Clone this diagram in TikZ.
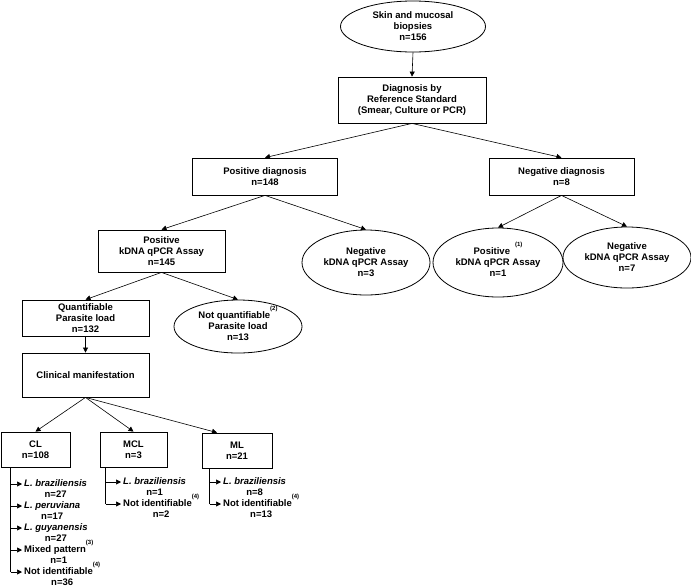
\documentclass[tikz,border=0pt]{standalone}
\usepackage{fontspec}
\setmainfont{Liberation Sans}
\usepackage{tikz}
\usetikzlibrary{arrows.meta,positioning,shapes.geometric,calc}
\newcommand{\supnote}[1]{\smash{\raisebox{8.5pt}{\fontsize{6}{7}\selectfont(#1)}}}
\tikzset{
  stage/.style={draw,line width=.8pt,fill=white,inner sep=0pt,align=center,
                font=\bfseries\fontsize{9.5}{11}\selectfont},
  oval/.style={stage,ellipse},
  flow/.style={-{Triangle[length=5pt,width=5pt]},line width=.6pt},
  spine/.style={line width=.6pt},
  taxon/.style={inner sep=0pt,anchor=west,text height=7pt,text depth=2pt,
                font=\bfseries\fontsize{9.5}{11}\selectfont},
  count/.style={inner sep=0pt,text height=7pt,text depth=2pt,
                font=\bfseries\fontsize{9.5}{11}\selectfont},
}

\begin{document}
\begin{tikzpicture}[x=1pt,y=-1pt]
  \useasboundingbox (0,0) rectangle (691,587);
  % tree
  \node[oval,minimum width=145pt,minimum height=51pt] (biopsy) at (413,26.5)
    {Skin and mucosal\\biopsies\\n=156};
  \node[stage,minimum width=148pt,minimum height=46pt] (refstd) at (412,100)
    {Diagnosis by\\Reference Standard\\(Smear, Culture or PCR)};
  \node[stage,minimum width=145pt,minimum height=37pt] (posdx) at (265,176.5)
    {Positive diagnosis\\n=148};
  \node[stage,minimum width=145pt,minimum height=37pt] (negdx) at (561.5,176.5)
    {Negative diagnosis\\n=8};
  \node[stage,minimum width=127pt,minimum height=42pt] (poskdna) at (161.5,251)
    {Positive\\kDNA qPCR Assay\\n=145};
  \node[oval,minimum width=128pt,minimum height=65pt] (negkdna) at (366,262.5)
    {Negative\\kDNA qPCR Assay\\n=3};
  \node[oval,minimum width=130pt,minimum height=69pt] (fpkdna) at (498,262.5)
    {Positive\hspace{5pt}\supnote{1}\\kDNA qPCR Assay\\n=1};
  \node[oval,minimum width=128pt,minimum height=61pt] (tnkdna) at (627,257.5)
    {Negative\\kDNA qPCR Assay\\n=7};
  \node[stage,minimum width=127pt,minimum height=36pt] (quant) at (85.5,318)
    {Quantifiable\\Parasite load\\n=132};
  \node[oval,minimum width=128pt,minimum height=53pt] (nonquant) at (238,326.5)
    {Not quantifiable\supnote{2}\\Parasite load\\n=13};
  \node[stage,minimum width=127pt,minimum height=44pt] (clin) at (85.5,375)
    {Clinical manifestation};
  \node[stage,minimum width=69pt,minimum height=35pt] (cl) at (35.5,449.5) {CL\\n=108};
  \node[stage,minimum width=67pt,minimum height=35pt] (mcl) at (133.5,449.5) {MCL\\n=3};
  \node[stage,minimum width=70pt,minimum height=35pt] (ml) at (237,450.5) {ML\\n=21};

  \foreach \a/\b in {biopsy/refstd,refstd/posdx,refstd/negdx,posdx/poskdna,
      posdx/negkdna,negdx/fpkdna,negdx/tnkdna,poskdna/quant,poskdna/nonquant,
      quant/clin,clin/cl,clin/mcl}
    \draw[flow] (\a.south) -- (\b.north);
  \draw[flow] (clin.south) -- ([xshift=-20pt]ml.north);

  % species lists
  \coordinate (clspine) at ([xshift=10pt]cl.south west);
  \foreach \k/\txt/\num in {1/{\textit{L. braziliensis}}/27,2/{\textit{L. peruviana}}/17,
      3/{\textit{L. guyanensis}}/27,4/{Mixed pattern\supnote{3}}/1,
      5/{Not identifiable\supnote{4}}/36}{
    \node[taxon] (cl\k) at (24,462+22*\k) {\txt};
    \node[count,below=2pt of cl\k] (cln\k) {n=\num};
    \draw[flow] (clspine |- cl\k.west) -- ([xshift=-2pt]cl\k.west);
  }
  \draw[spine] (clspine) -- (clspine |- cl5.west);

  \coordinate (mclspine) at ([xshift=6pt]mcl.south west);
  \foreach \k/\txt/\num in {1/{\textit{L. braziliensis}}/1,2/{Not identifiable\supnote{4}}/2}{
    \node[taxon] (mcl\k) at (123,460+22*\k) {\txt};
    \node[count,below=2pt of mcl\k] (mcln\k) {n=\num};
    \draw[flow] (mclspine |- mcl\k.west) -- ([xshift=-2pt]mcl\k.west);
  }
  \draw[spine] (mclspine) -- (mclspine |- mcl2.west);

  \coordinate (mlspine) at ([xshift=8pt]ml.south west);
  \foreach \k/\txt/\num in {1/{\textit{L. braziliensis}}/8,2/{Not identifiable\supnote{4}}/13}{
    \node[taxon] (ml\k) at (223,460+22*\k) {\txt};
    \node[count,below=2pt of ml\k] (mln\k) {n=\num};
    \draw[flow] (mlspine |- ml\k.west) -- ([xshift=-2pt]ml\k.west);
  }
  \draw[spine] (mlspine) -- (mlspine |- ml2.west);
\end{tikzpicture}
\end{document}
